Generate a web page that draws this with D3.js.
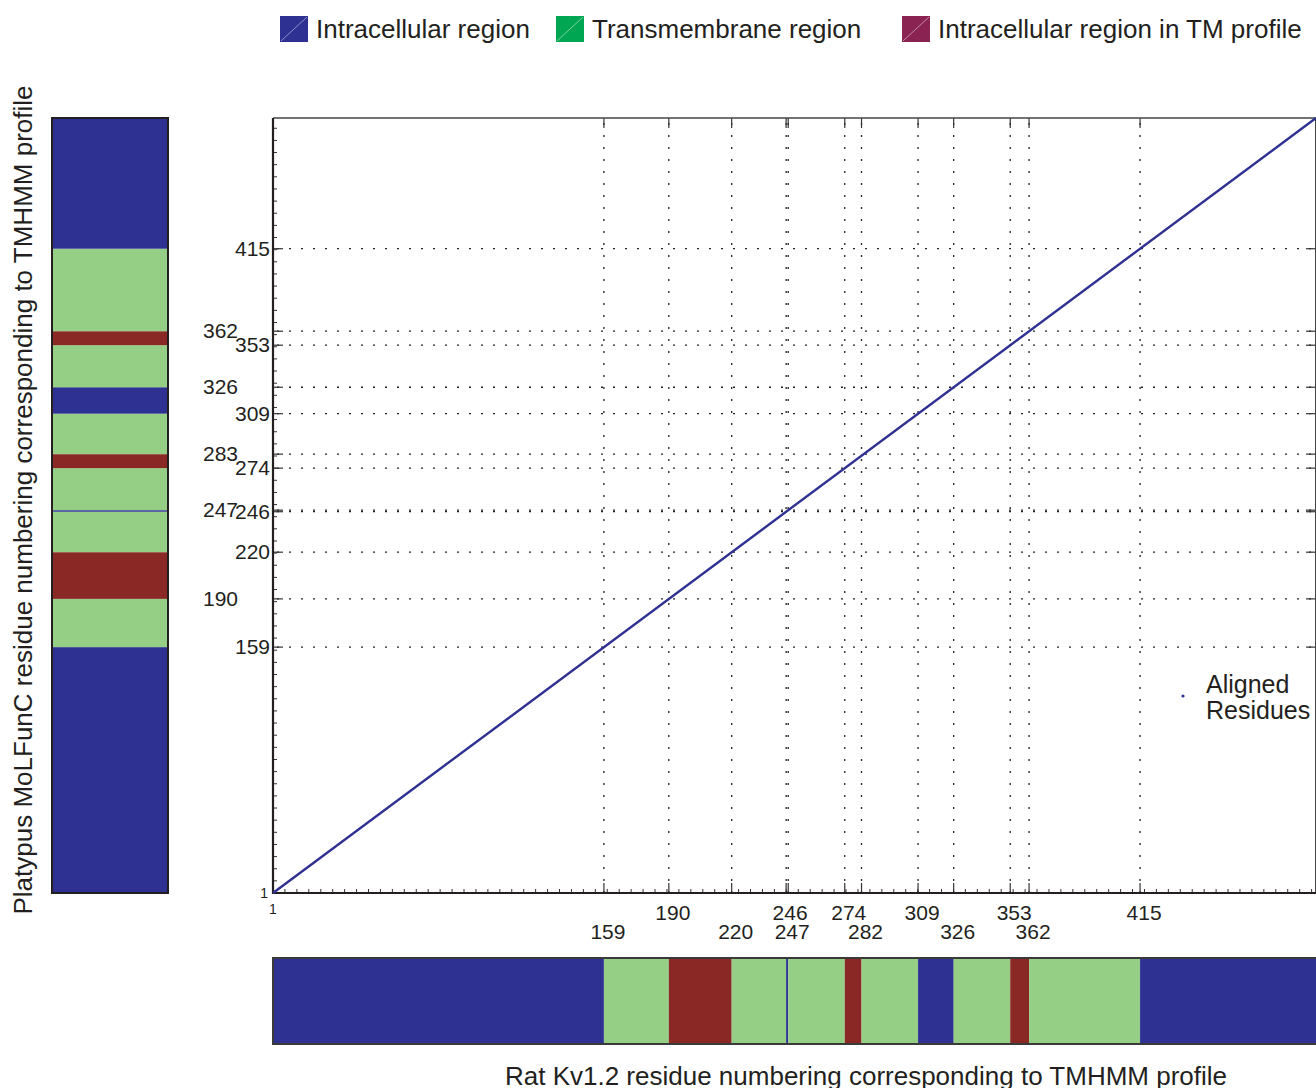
<!DOCTYPE html>
<html>
<head>
<meta charset="utf-8">
<script src="https://cdn.jsdelivr.net/npm/d3@7"></script>
<style>
  body { margin: 0; background: #fff; }
  text { font-family: "Liberation Sans", Arial, sans-serif; fill: #231f20; }
</style>
</head>
<body>
<div id="chart"></div>
<script>
var width = 1316;
var height = 1088;

// residue ticks (rat on x, platypus on y)
var xTicks = [159, 190, 220, 246, 247, 274, 282, 309, 326, 353, 362, 415];
var yTicks = [159, 190, 220, 246, 247, 274, 283, 309, 326, 353, 362, 415];
var xLowRow = [159, 220, 247, 282, 326, 362];
var yShifted = [190, 247, 283, 326, 362];

// TMHMM segments
var ratStarts = [1, 159, 190, 220, 246, 247, 274, 282, 309, 326, 353, 362, 415];
var ratEnds   = [159, 190, 220, 246, 247, 274, 282, 309, 326, 353, 362, 415, 499];
var ratTypes  = ["in", "tm", "tmin", "tm", "in", "tm", "tmin", "tm", "in", "tm", "tmin", "tm", "in"];
var platStarts = [1, 159, 190, 220, 246, 247, 274, 283, 309, 326, 353, 362, 415];
var platEnds   = [159, 190, 220, 246, 247, 274, 283, 309, 326, 353, 362, 415, 499];
var platTypes  = ["in", "tm", "tmin", "tm", "in", "tm", "tmin", "tm", "in", "tm", "tmin", "tm", "in"];

// aligned residues (rat, platypus)
var alignedRat = [1, 499];
var alignedPlat = [1, 499];

var legendNames = ["Intracellular region", "Transmembrane region", "Intracellular region in TM profile"];
var legendColors = ["#2e3192", "#00a651", "#8a2252"];
var barColors = {in: "#2e3192", tm: "#95ce85", tmin: "#8a2826"};

var plot = {left: 273, right: 1316, top: 118, bottom: 893};

var svg = d3.select("#chart").append("svg")
  .attr("width", width)
  .attr("height", height);

var xScale = d3.scaleLinear().domain([1, 499]).range([plot.left, plot.right]);
var yScale = d3.scaleLinear().domain([1, 499]).range([plot.bottom, plot.top]);

// dotted grid
svg.append("g").selectAll("line")
  .data(xTicks).enter().append("line")
  .attr("x1", d => xScale(d)).attr("x2", d => xScale(d))
  .attr("y1", plot.bottom).attr("y2", plot.top)
  .attr("stroke", "#222").attr("stroke-width", 1.3)
  .attr("stroke-dasharray", "2,10");
svg.append("g").selectAll("line")
  .data(yTicks).enter().append("line")
  .attr("y1", d => yScale(d)).attr("y2", d => yScale(d))
  .attr("x1", plot.left).attr("x2", plot.right)
  .attr("stroke", "#222").attr("stroke-width", 1.3)
  .attr("stroke-dasharray", "2,10")
  .attr("stroke-dashoffset", -4);

// major ticks (all four sides, pointing inward)
var tickLen = 10;
xTicks.forEach(function(d) {
  svg.append("line").attr("x1", xScale(d)).attr("x2", xScale(d))
    .attr("y1", plot.bottom).attr("y2", plot.bottom - tickLen)
    .attr("stroke", "#333").attr("stroke-width", 1.2);
  svg.append("line").attr("x1", xScale(d)).attr("x2", xScale(d))
    .attr("y1", plot.top).attr("y2", plot.top + tickLen)
    .attr("stroke", "#333").attr("stroke-width", 1.2);
});
yTicks.forEach(function(d) {
  svg.append("line").attr("y1", yScale(d)).attr("y2", yScale(d))
    .attr("x1", plot.left).attr("x2", plot.left + tickLen)
    .attr("stroke", "#333").attr("stroke-width", 1.2);
  svg.append("line").attr("y1", yScale(d)).attr("y2", yScale(d))
    .attr("x1", plot.right).attr("x2", plot.right - tickLen)
    .attr("stroke", "#333").attr("stroke-width", 1.2);
});

// minor ticks on left and bottom axes
var minorX = d3.range(1, 499, 5.7);
var minorY = d3.range(1, 499, 7.8);
svg.append("g").selectAll("line").data(minorX).enter().append("line")
  .attr("x1", d => xScale(d)).attr("x2", d => xScale(d))
  .attr("y1", plot.bottom).attr("y2", plot.bottom - 4)
  .attr("stroke", "#333").attr("stroke-width", 1);
svg.append("g").selectAll("line").data(minorY).enter().append("line")
  .attr("y1", d => yScale(d)).attr("y2", d => yScale(d))
  .attr("x1", plot.left).attr("x2", plot.left + 4)
  .attr("stroke", "#333").attr("stroke-width", 1);

// frame
svg.append("line").attr("x1", plot.left).attr("x2", plot.right)
  .attr("y1", plot.top).attr("y2", plot.top)
  .attr("stroke", "#444").attr("stroke-width", 1.5);
svg.append("line").attr("x1", plot.right - 0.5).attr("x2", plot.right - 0.5)
  .attr("y1", plot.top).attr("y2", plot.bottom)
  .attr("stroke", "#444").attr("stroke-width", 1);
svg.append("line").attr("x1", plot.left).attr("x2", plot.left)
  .attr("y1", plot.top).attr("y2", plot.bottom + 1)
  .attr("stroke", "#231f20").attr("stroke-width", 2.2);
svg.append("line").attr("x1", plot.left - 1).attr("x2", plot.right)
  .attr("y1", plot.bottom).attr("y2", plot.bottom)
  .attr("stroke", "#231f20").attr("stroke-width", 2.2);

// aligned residues line
var line = d3.line()
  .x((d, i) => xScale(alignedRat[i]))
  .y((d, i) => yScale(alignedPlat[i]));
svg.append("path")
  .datum(alignedRat)
  .attr("d", line)
  .attr("fill", "none")
  .attr("stroke", "#2e3192")
  .attr("stroke-width", 2.4);

// tick labels
var tickFont = 21;
svg.append("g").selectAll("text").data(xTicks).enter().append("text")
  .attr("x", d => xScale(d) + 4)
  .attr("y", d => xLowRow.indexOf(d) >= 0 ? 939 : 920)
  .attr("text-anchor", "middle")
  .style("font-size", tickFont + "px")
  .text(d => d);
svg.append("g").selectAll("text").data(yTicks).enter().append("text")
  .attr("x", d => yShifted.indexOf(d) >= 0 ? 238 : 270)
  .attr("y", d => yScale(d) + 7)
  .attr("text-anchor", "end")
  .style("font-size", tickFont + "px")
  .text(d => d);
svg.append("text").attr("x", xScale(1)).attr("y", 914)
  .attr("text-anchor", "middle").style("font-size", "14px").text("1");
svg.append("text").attr("x", 268).attr("y", yScale(1) + 5)
  .attr("text-anchor", "end").style("font-size", "14px").text("1");

// bottom bar (rat)
var barX = {top: 958, bottom: 1044};
svg.append("g").selectAll("rect").data(ratStarts).enter().append("rect")
  .attr("x", d => xScale(d))
  .attr("width", (d, i) => xScale(ratEnds[i]) - xScale(d))
  .attr("y", barX.top).attr("height", barX.bottom - barX.top)
  .attr("fill", (d, i) => barColors[ratTypes[i]]);
svg.append("rect").attr("x", plot.left).attr("y", barX.top)
  .attr("width", plot.right - plot.left + 2).attr("height", barX.bottom - barX.top)
  .attr("fill", "none").attr("stroke", "#3a3a3a").attr("stroke-width", 2);

// left bar (platypus)
var barY = {left: 52, right: 168};
svg.append("g").selectAll("rect").data(platStarts).enter().append("rect")
  .attr("x", barY.left)
  .attr("width", barY.right - barY.left)
  .attr("y", (d, i) => yScale(platEnds[i]))
  .attr("height", (d, i) => yScale(d) - yScale(platEnds[i]))
  .attr("fill", (d, i) => barColors[platTypes[i]]);
svg.append("rect").attr("x", barY.left).attr("y", plot.top)
  .attr("width", barY.right - barY.left).attr("height", plot.bottom - plot.top)
  .attr("fill", "none").attr("stroke", "#231f20").attr("stroke-width", 2);

// axis titles
svg.append("text").attr("x", 866).attr("y", 1085)
  .attr("text-anchor", "middle").style("font-size", "26px")
  .text("Rat Kv1.2 residue numbering corresponding to TMHMM profile");
svg.append("text")
  .attr("transform", "translate(32,500) rotate(-90)")
  .attr("text-anchor", "middle").style("font-size", "26px")
  .text("Platypus MoLFunC residue numbering corresponding to TMHMM profile");

// legend
var legendX = [280, 556, 902];
legendNames.forEach(function(name, i) {
  var g = svg.append("g").attr("transform", "translate(" + legendX[i] + ",16)");
  g.append("rect").attr("width", 28).attr("height", 26).attr("fill", legendColors[i]);
  g.append("line").attr("x1", 1).attr("y1", 25).attr("x2", 27).attr("y2", 1)
    .attr("stroke", "#fff").attr("stroke-opacity", 0.6).attr("stroke-width", 0.8);
  g.append("text").attr("x", 36).attr("y", 22)
    .style("font-size", "26px").text(name);
});

// aligned residues legend
svg.append("circle").attr("cx", 1183).attr("cy", 696).attr("r", 1.6).attr("fill", "#2e3192");
svg.append("text").attr("x", 1206).attr("y", 693).style("font-size", "25px").text("Aligned");
svg.append("text").attr("x", 1206).attr("y", 719).style("font-size", "25px").text("Residues");
</script>
</body>
</html>
